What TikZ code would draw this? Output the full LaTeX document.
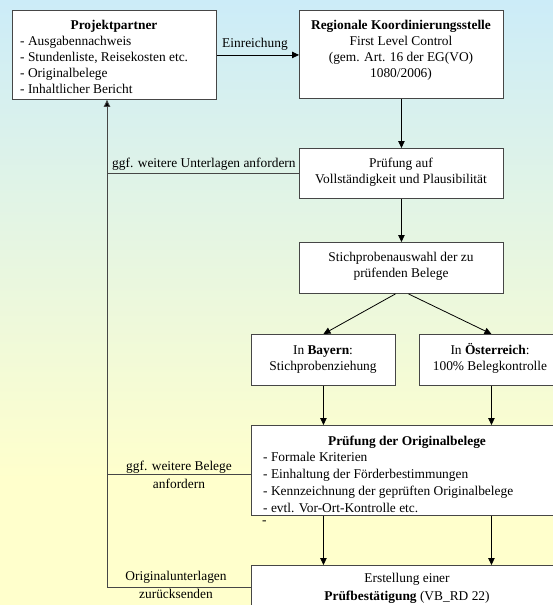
\documentclass[tikz,border=0pt]{standalone}
\usepackage{fontspec}
\setmainfont{Liberation Serif}
\usetikzlibrary{arrows.meta,calc}
\definecolor{bgtop}{RGB}{204,236,248}
\definecolor{bgbot}{RGB}{255,255,204}
\definecolor{edge}{RGB}{70,70,70}
\begin{document}
\begin{tikzpicture}[x=1pt,y=-1pt,
  box/.style={draw=edge, fill=white, line width=0.9pt, inner sep=0pt, anchor=north west},
  txt/.style={inner sep=0pt, font=\fontsize{13.4}{16}\selectfont},
  txtb/.style={inner sep=0pt, font=\fontsize{13.4}{17.4}\selectfont},
  txtc/.style={inner sep=0pt, font=\fontsize{13.4}{17}\selectfont},
  arr/.style={draw=black, line width=0.8pt, -{Triangle[length=7pt,width=6.5pt]}},
  fb/.style={draw=edge, line width=0.9pt},
  fbarr/.style={draw=edge, line width=0.9pt, -{Triangle[length=7pt,width=6.5pt,fill=black]}}
]
\useasboundingbox (0,0) rectangle (553,605);
\clip (0,0) rectangle (553,605);
% background
\shade[top color=bgtop, bottom color=bgbot] (0,0) rectangle (553,480);
\fill[bgbot] (0,479) rectangle (553,606);

% boxes
\node[box, minimum width=204pt, minimum height=89pt] (pp) at (12,10) {};
\node[box, minimum width=204pt, minimum height=88pt] (rk) at (299,10) {};
\node[box, minimum width=204pt, minimum height=50pt] (pa) at (299,148) {};
\node[box, minimum width=204pt, minimum height=51pt] (sp) at (299,242) {};
\node[box, minimum width=144pt, minimum height=51pt] (by) at (251,334) {};
\node[box, minimum width=133.5pt, minimum height=51pt] (oe) at (419,334) {};
\node[box, minimum width=312pt, minimum height=90pt] (og) at (251,425) {};
\node[box, minimum width=312pt, minimum height=60pt] (er) at (251,565) {};

% texts (multi-line nodes: base anchor = last line)
\node[txt, anchor=base] (pp-t) at (114,29) {\textbf{Projektpartner}};
\node[txt, anchor=base west, align=left] (pp-l) at (20,93) {- Ausgabennachweis\\- Stundenliste, Reisekosten etc.\\- Originalbelege\\- Inhaltlicher Bericht};
\node[txt, anchor=base, align=center] (rk-t) at (401,77) {\textbf{Regionale Koordinierungsstelle}\\First Level Control\\(gem. Art. 16 der EG(VO)\\1080/2006)};
\node[txt, anchor=base west] (ein) at (222,47) {Einreichung};
\node[txt, anchor=base, align=center] (pa-t) at (401,183) {Prüfung auf\\Vollständigkeit und Plausibilität};
\node[txt, anchor=base west] (l1) at (112,167) {ggf. weitere Unterlagen anfordern};
\node[txt, anchor=base, align=center] (sp-t) at (401,277) {Stichprobenauswahl der zu\\prüfenden Belege};
\node[txt, anchor=base, align=center] (by-t) at (323,370) {In \textbf{Bayern}:\\Stichprobenziehung};
\node[txt, anchor=base, align=center] (oe-t) at (490,370) {In \textbf{Österreich}:\\100\% Belegkontrolle};
\node[txt, anchor=base] (og-t) at (407,445) {\textbf{Prüfung der Originalbelege}};
\node[txtc, anchor=base west, align=left] (og-l) at (263,512.5) {- Formale Kriterien\\- Einhaltung der Förderbestimmungen\\- Kennzeichnung der geprüften Originalbelege\\- evtl. Vor-Ort-Kontrolle etc.};
\node[txt, anchor=base west] (dash) at (262,524) {-};
\node[txtb, anchor=base, align=center] (l2) at (179,488) {ggf. weitere Belege\\anfordern};
\node[txtb, anchor=base, align=center] (er-t) at (407,600) {Erstellung einer\\\textbf{Prüfbestätigung} (VB\_RD 22)};
\node[txtb, anchor=base, align=center] (l3) at (176,598) {Originalunterlagen\\zurücksenden};

% connectors
\draw[arr] (pp.east) -- (pp.east -| rk.west);
\draw[arr] (rk) -- (pa);
\draw[arr] (pa) -- (sp);
\draw[arr] ($(sp.south)+(-6,0)$) -- (by.north);
\coordinate (oa) at ($(oe.south)+(5.25,0)$);
\draw[arr] ($(sp.south)+(7,0)$) -- (oa |- oe.north);
\draw[arr] (by.south) -- (by.south |- og.north);
\draw[arr] (oa) -- (oa |- og.north);
\draw[arr] (by.south |- og.south) -- (by.south |- er.north);
\draw[arr] (oa |- og.south) -- (oa |- er.north);

% feedback lines
\coordinate (f1) at (107,173);
\coordinate (f2) at (107,474);
\coordinate (f3) at (107,587);
\draw[fb] (f1 -| pa.west) -- (f1);
\draw[fb] (f2 -| og.west) -- (f2);
\draw[fbarr] (f3 -| er.west) -- (f3) -- (f3 |- pp.south);
\end{tikzpicture}
\end{document}
